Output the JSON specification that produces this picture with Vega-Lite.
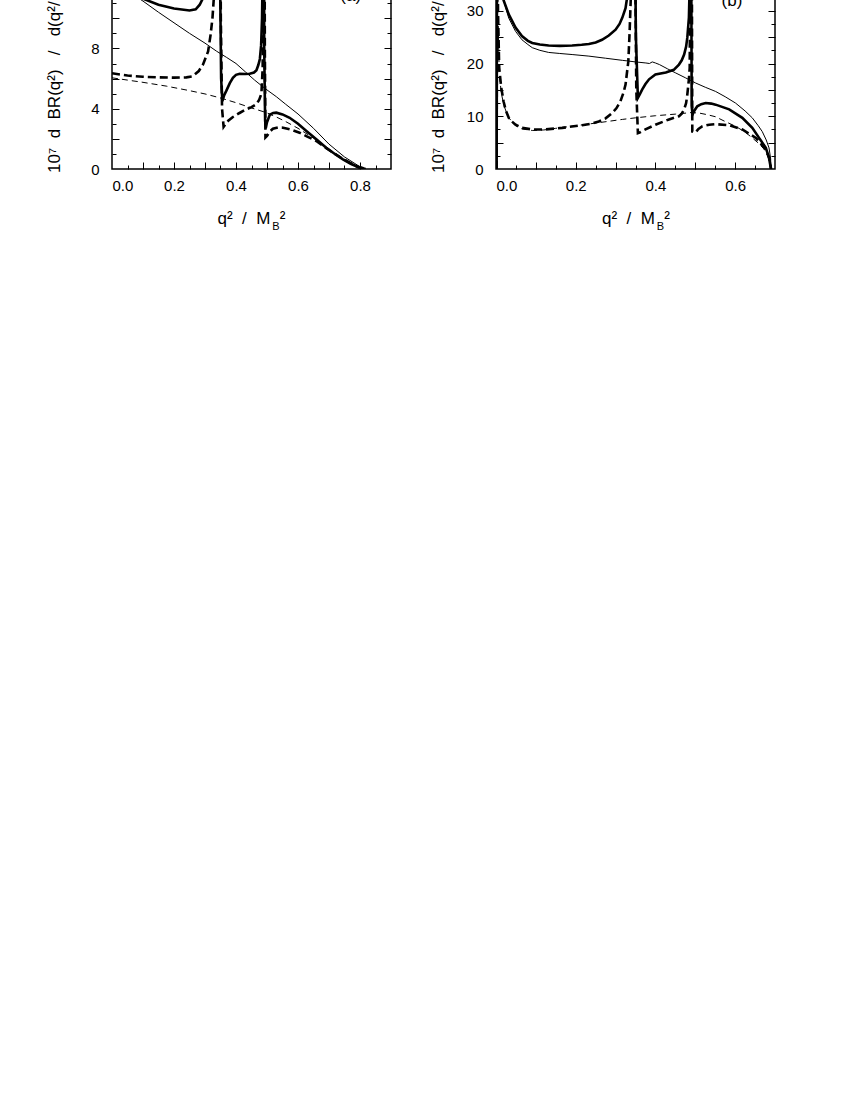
{
"$schema": "https://vega.github.io/schema/vega-lite/v6.json",
"background": "white",
"padding": {"left": 44, "top": -47, "right": 5, "bottom": 5},
"spacing": 35,
"config": {
  "view": {"stroke": "black", "strokeWidth": 1.5},
  "axis": {"labelFont": "Liberation Sans", "titleFont": "Liberation Sans", "labelFontSize": 15, "labelColor": "black", "titleColor": "black", "titleFontWeight": "normal", "tickColor": "black", "tickWidth": 1, "domain": false, "grid": false},
  "text": {"font": "Liberation Sans"}
},
"datasets": {
"a": [
{"c":"thick solid","x":0,"y":12.8},{"c":"thick solid","x":0.05,"y":11.9},{"c":"thick solid","x":0.1,"y":11.3},{"c":"thick solid","x":0.15,"y":10.9},{"c":"thick solid","x":0.2,"y":10.65},{"c":"thick solid","x":0.25,"y":10.52},{"c":"thick solid","x":0.27,"y":10.6},{"c":"thick solid","x":0.283,"y":10.9},{"c":"thick solid","x":0.295,"y":11.4},{"c":"thick solid","x":0.31,"y":12.5},{"c":"thick solid","x":0.325,"y":14.5},{"c":"thick solid","x":0.335,"y":18},{"c":"thick solid","x":0.342,"y":30},{"c":"thick solid","x":0.346,"y":30},{"c":"thick solid","x":0.349,"y":12},{"c":"thick solid","x":0.352,"y":6},{"c":"thick solid","x":0.356,"y":4.5},{"c":"thick solid","x":0.362,"y":4.9},{"c":"thick solid","x":0.369,"y":5.2},{"c":"thick solid","x":0.38,"y":5.7},{"c":"thick solid","x":0.39,"y":6.05},{"c":"thick solid","x":0.4,"y":6.25},{"c":"thick solid","x":0.412,"y":6.32},{"c":"thick solid","x":0.43,"y":6.3},{"c":"thick solid","x":0.444,"y":6.32},{"c":"thick solid","x":0.458,"y":6.4},{"c":"thick solid","x":0.466,"y":6.55},{"c":"thick solid","x":0.472,"y":6.9},{"c":"thick solid","x":0.477,"y":7.3},{"c":"thick solid","x":0.481,"y":8.2},{"c":"thick solid","x":0.484,"y":10},{"c":"thick solid","x":0.486,"y":13},{"c":"thick solid","x":0.4875,"y":30},{"c":"thick solid","x":0.489,"y":30},{"c":"thick solid","x":0.491,"y":8},{"c":"thick solid","x":0.494,"y":3.2},{"c":"thick solid","x":0.496,"y":2.7},{"c":"thick solid","x":0.5,"y":3.1},{"c":"thick solid","x":0.509,"y":3.6},{"c":"thick solid","x":0.52,"y":3.72},{"c":"thick solid","x":0.53,"y":3.74},{"c":"thick solid","x":0.55,"y":3.62},{"c":"thick solid","x":0.573,"y":3.4},{"c":"thick solid","x":0.6,"y":3.0},{"c":"thick solid","x":0.627,"y":2.52},{"c":"thick solid","x":0.66,"y":1.95},{"c":"thick solid","x":0.691,"y":1.41},{"c":"thick solid","x":0.72,"y":0.98},{"c":"thick solid","x":0.745,"y":0.64},{"c":"thick solid","x":0.77,"y":0.35},{"c":"thick solid","x":0.795,"y":0.12},{"c":"thick solid","x":0.818,"y":0},
{"c":"thick dashed","x":0,"y":6.35},{"c":"thick dashed","x":0.05,"y":6.2},{"c":"thick dashed","x":0.1,"y":6.12},{"c":"thick dashed","x":0.15,"y":6.08},{"c":"thick dashed","x":0.2,"y":6.06},{"c":"thick dashed","x":0.24,"y":6.08},{"c":"thick dashed","x":0.26,"y":6.15},{"c":"thick dashed","x":0.28,"y":6.5},{"c":"thick dashed","x":0.294,"y":6.95},{"c":"thick dashed","x":0.31,"y":7.8},{"c":"thick dashed","x":0.318,"y":8.9},{"c":"thick dashed","x":0.324,"y":10},{"c":"thick dashed","x":0.329,"y":11.5},{"c":"thick dashed","x":0.336,"y":15},{"c":"thick dashed","x":0.342,"y":30},{"c":"thick dashed","x":0.347,"y":30},{"c":"thick dashed","x":0.351,"y":10},{"c":"thick dashed","x":0.355,"y":4.0},{"c":"thick dashed","x":0.36,"y":2.8},{"c":"thick dashed","x":0.365,"y":2.95},{"c":"thick dashed","x":0.375,"y":3.2},{"c":"thick dashed","x":0.39,"y":3.45},{"c":"thick dashed","x":0.41,"y":3.7},{"c":"thick dashed","x":0.433,"y":3.96},{"c":"thick dashed","x":0.45,"y":4.1},{"c":"thick dashed","x":0.466,"y":4.3},{"c":"thick dashed","x":0.475,"y":4.6},{"c":"thick dashed","x":0.482,"y":5.0},{"c":"thick dashed","x":0.486,"y":6.7},{"c":"thick dashed","x":0.4875,"y":12},{"c":"thick dashed","x":0.4885,"y":30},{"c":"thick dashed","x":0.4905,"y":30},{"c":"thick dashed","x":0.493,"y":8},{"c":"thick dashed","x":0.495,"y":2.1},{"c":"thick dashed","x":0.5,"y":2.2},{"c":"thick dashed","x":0.51,"y":2.5},{"c":"thick dashed","x":0.519,"y":2.67},{"c":"thick dashed","x":0.535,"y":2.75},{"c":"thick dashed","x":0.552,"y":2.74},{"c":"thick dashed","x":0.58,"y":2.6},{"c":"thick dashed","x":0.605,"y":2.41},{"c":"thick dashed","x":0.63,"y":2.15},{"c":"thick dashed","x":0.659,"y":1.86},{"c":"thick dashed","x":0.69,"y":1.4},{"c":"thick dashed","x":0.713,"y":1.08},{"c":"thick dashed","x":0.74,"y":0.73},{"c":"thick dashed","x":0.767,"y":0.42},{"c":"thick dashed","x":0.79,"y":0.17},{"c":"thick dashed","x":0.818,"y":0},
{"c":"thin solid","x":0,"y":12.5},{"c":"thin solid","x":0.05,"y":11.8},{"c":"thin solid","x":0.1,"y":11.14},{"c":"thin solid","x":0.15,"y":10.4},{"c":"thin solid","x":0.2,"y":9.7},{"c":"thin solid","x":0.25,"y":9.0},{"c":"thin solid","x":0.3,"y":8.35},{"c":"thin solid","x":0.337,"y":7.82},{"c":"thin solid","x":0.37,"y":7.4},{"c":"thin solid","x":0.4,"y":7.0},{"c":"thin solid","x":0.43,"y":6.45},{"c":"thin solid","x":0.46,"y":5.9},{"c":"thin solid","x":0.493,"y":5.35},{"c":"thin solid","x":0.53,"y":4.8},{"c":"thin solid","x":0.56,"y":4.3},{"c":"thin solid","x":0.6,"y":3.65},{"c":"thin solid","x":0.65,"y":2.7},{"c":"thin solid","x":0.7,"y":1.65},{"c":"thin solid","x":0.75,"y":0.8},{"c":"thin solid","x":0.8,"y":0.15},{"c":"thin solid","x":0.818,"y":0},
{"c":"thin dashed","x":0,"y":6.05},{"c":"thin dashed","x":0.05,"y":5.9},{"c":"thin dashed","x":0.1,"y":5.75},{"c":"thin dashed","x":0.175,"y":5.5},{"c":"thin dashed","x":0.25,"y":5.2},{"c":"thin dashed","x":0.3,"y":4.98},{"c":"thin dashed","x":0.347,"y":4.73},{"c":"thin dashed","x":0.4,"y":4.4},{"c":"thin dashed","x":0.45,"y":4.05},{"c":"thin dashed","x":0.498,"y":3.74},{"c":"thin dashed","x":0.53,"y":3.45},{"c":"thin dashed","x":0.56,"y":3.15},{"c":"thin dashed","x":0.6,"y":2.7},{"c":"thin dashed","x":0.65,"y":2.05},{"c":"thin dashed","x":0.7,"y":1.3},{"c":"thin dashed","x":0.75,"y":0.65},{"c":"thin dashed","x":0.79,"y":0.2},{"c":"thin dashed","x":0.818,"y":0}
],
"b": [
{"c":"thick solid","x":0.0016,"y":0},{"c":"thick solid","x":0.003,"y":60},{"c":"thick solid","x":0.01,"y":45},{"c":"thick solid","x":0.019,"y":32},{"c":"thick solid","x":0.032,"y":29.3},{"c":"thick solid","x":0.049,"y":26.8},{"c":"thick solid","x":0.065,"y":25.2},{"c":"thick solid","x":0.08,"y":24.3},{"c":"thick solid","x":0.091,"y":23.9},{"c":"thick solid","x":0.11,"y":23.6},{"c":"thick solid","x":0.132,"y":23.4},{"c":"thick solid","x":0.16,"y":23.35},{"c":"thick solid","x":0.191,"y":23.4},{"c":"thick solid","x":0.215,"y":23.55},{"c":"thick solid","x":0.233,"y":23.7},{"c":"thick solid","x":0.25,"y":24.0},{"c":"thick solid","x":0.266,"y":24.5},{"c":"thick solid","x":0.283,"y":25.3},{"c":"thick solid","x":0.3,"y":26.4},{"c":"thick solid","x":0.31,"y":27.5},{"c":"thick solid","x":0.317,"y":28.7},{"c":"thick solid","x":0.325,"y":30.5},{"c":"thick solid","x":0.332,"y":34},{"c":"thick solid","x":0.338,"y":40},{"c":"thick solid","x":0.343,"y":60},{"c":"thick solid","x":0.347,"y":60},{"c":"thick solid","x":0.351,"y":25},{"c":"thick solid","x":0.356,"y":13.5},{"c":"thick solid","x":0.361,"y":14.2},{"c":"thick solid","x":0.367,"y":15.1},{"c":"thick solid","x":0.375,"y":16.1},{"c":"thick solid","x":0.384,"y":17.0},{"c":"thick solid","x":0.4,"y":17.9},{"c":"thick solid","x":0.426,"y":18.3},{"c":"thick solid","x":0.446,"y":18.8},{"c":"thick solid","x":0.459,"y":19.8},{"c":"thick solid","x":0.466,"y":20.6},{"c":"thick solid","x":0.472,"y":21.7},{"c":"thick solid","x":0.477,"y":23.2},{"c":"thick solid","x":0.48,"y":24.9},{"c":"thick solid","x":0.484,"y":28.7},{"c":"thick solid","x":0.486,"y":35},{"c":"thick solid","x":0.4875,"y":60},{"c":"thick solid","x":0.489,"y":60},{"c":"thick solid","x":0.491,"y":12},{"c":"thick solid","x":0.493,"y":10.3},{"c":"thick solid","x":0.498,"y":11.1},{"c":"thick solid","x":0.505,"y":11.9},{"c":"thick solid","x":0.515,"y":12.3},{"c":"thick solid","x":0.526,"y":12.5},{"c":"thick solid","x":0.54,"y":12.4},{"c":"thick solid","x":0.551,"y":12.2},{"c":"thick solid","x":0.585,"y":11.3},{"c":"thick solid","x":0.618,"y":9.7},{"c":"thick solid","x":0.643,"y":7.8},{"c":"thick solid","x":0.66,"y":5.9},{"c":"thick solid","x":0.677,"y":4.0},{"c":"thick solid","x":0.685,"y":2.1},{"c":"thick solid","x":0.69,"y":0},
{"c":"thick dashed","x":0.0016,"y":0},{"c":"thick dashed","x":0.003,"y":60},{"c":"thick dashed","x":0.005,"y":30},{"c":"thick dashed","x":0.008,"y":19.2},{"c":"thick dashed","x":0.013,"y":15.5},{"c":"thick dashed","x":0.019,"y":12.8},{"c":"thick dashed","x":0.025,"y":11.0},{"c":"thick dashed","x":0.032,"y":9.7},{"c":"thick dashed","x":0.04,"y":9.0},{"c":"thick dashed","x":0.049,"y":8.4},{"c":"thick dashed","x":0.065,"y":7.8},{"c":"thick dashed","x":0.091,"y":7.5},{"c":"thick dashed","x":0.124,"y":7.5},{"c":"thick dashed","x":0.166,"y":7.8},{"c":"thick dashed","x":0.216,"y":8.3},{"c":"thick dashed","x":0.24,"y":8.6},{"c":"thick dashed","x":0.258,"y":9.0},{"c":"thick dashed","x":0.275,"y":9.6},{"c":"thick dashed","x":0.291,"y":10.6},{"c":"thick dashed","x":0.302,"y":11.5},{"c":"thick dashed","x":0.312,"y":12.8},{"c":"thick dashed","x":0.32,"y":14.5},{"c":"thick dashed","x":0.325,"y":16.0},{"c":"thick dashed","x":0.332,"y":20.4},{"c":"thick dashed","x":0.335,"y":25.5},{"c":"thick dashed","x":0.338,"y":32},{"c":"thick dashed","x":0.341,"y":60},{"c":"thick dashed","x":0.347,"y":60},{"c":"thick dashed","x":0.352,"y":15},{"c":"thick dashed","x":0.356,"y":6.8},{"c":"thick dashed","x":0.36,"y":6.9},{"c":"thick dashed","x":0.367,"y":7.2},{"c":"thick dashed","x":0.375,"y":7.5},{"c":"thick dashed","x":0.4,"y":8.4},{"c":"thick dashed","x":0.434,"y":9.4},{"c":"thick dashed","x":0.459,"y":10.0},{"c":"thick dashed","x":0.466,"y":10.5},{"c":"thick dashed","x":0.472,"y":11.3},{"c":"thick dashed","x":0.477,"y":12.5},{"c":"thick dashed","x":0.48,"y":14.1},{"c":"thick dashed","x":0.484,"y":17},{"c":"thick dashed","x":0.486,"y":19.2},{"c":"thick dashed","x":0.4875,"y":40},{"c":"thick dashed","x":0.4885,"y":60},{"c":"thick dashed","x":0.4905,"y":60},{"c":"thick dashed","x":0.4925,"y":7.1},{"c":"thick dashed","x":0.5,"y":6.9},{"c":"thick dashed","x":0.508,"y":7.6},{"c":"thick dashed","x":0.518,"y":8.1},{"c":"thick dashed","x":0.535,"y":8.4},{"c":"thick dashed","x":0.551,"y":8.5},{"c":"thick dashed","x":0.585,"y":8.3},{"c":"thick dashed","x":0.618,"y":7.5},{"c":"thick dashed","x":0.652,"y":5.9},{"c":"thick dashed","x":0.677,"y":3.7},{"c":"thick dashed","x":0.686,"y":2.0},{"c":"thick dashed","x":0.69,"y":0},
{"c":"thin solid","x":0.0016,"y":0},{"c":"thin solid","x":0.003,"y":60},{"c":"thin solid","x":0.01,"y":42},{"c":"thin solid","x":0.019,"y":32},{"c":"thin solid","x":0.032,"y":28.6},{"c":"thin solid","x":0.049,"y":26.1},{"c":"thin solid","x":0.065,"y":24.5},{"c":"thin solid","x":0.08,"y":23.6},{"c":"thin solid","x":0.091,"y":23.0},{"c":"thin solid","x":0.11,"y":22.5},{"c":"thin solid","x":0.132,"y":22.1},{"c":"thin solid","x":0.16,"y":21.9},{"c":"thin solid","x":0.191,"y":21.7},{"c":"thin solid","x":0.233,"y":21.4},{"c":"thin solid","x":0.275,"y":21.0},{"c":"thin solid","x":0.317,"y":20.6},{"c":"thin solid","x":0.35,"y":20.3},{"c":"thin solid","x":0.376,"y":20.1},{"c":"thin solid","x":0.385,"y":20.0},{"c":"thin solid","x":0.392,"y":20.3},{"c":"thin solid","x":0.4,"y":20.1},{"c":"thin solid","x":0.41,"y":19.8},{"c":"thin solid","x":0.43,"y":19.0},{"c":"thin solid","x":0.451,"y":18.2},{"c":"thin solid","x":0.475,"y":17.3},{"c":"thin solid","x":0.501,"y":16.3},{"c":"thin solid","x":0.525,"y":15.5},{"c":"thin solid","x":0.551,"y":14.7},{"c":"thin solid","x":0.575,"y":13.7},{"c":"thin solid","x":0.601,"y":12.5},{"c":"thin solid","x":0.625,"y":11.0},{"c":"thin solid","x":0.643,"y":9.7},{"c":"thin solid","x":0.658,"y":8.2},{"c":"thin solid","x":0.668,"y":7.1},{"c":"thin solid","x":0.678,"y":5.5},{"c":"thin solid","x":0.685,"y":4.0},{"c":"thin solid","x":0.689,"y":2.0},{"c":"thin solid","x":0.69,"y":0},
{"c":"thin dashed","x":0.0016,"y":0},{"c":"thin dashed","x":0.003,"y":60},{"c":"thin dashed","x":0.005,"y":30},{"c":"thin dashed","x":0.008,"y":18.5},{"c":"thin dashed","x":0.013,"y":14.5},{"c":"thin dashed","x":0.02,"y":12},{"c":"thin dashed","x":0.03,"y":10},{"c":"thin dashed","x":0.04,"y":8.9},{"c":"thin dashed","x":0.049,"y":8.2},{"c":"thin dashed","x":0.065,"y":7.6},{"c":"thin dashed","x":0.091,"y":7.3},{"c":"thin dashed","x":0.12,"y":7.4},{"c":"thin dashed","x":0.149,"y":7.7},{"c":"thin dashed","x":0.2,"y":8.2},{"c":"thin dashed","x":0.25,"y":8.7},{"c":"thin dashed","x":0.317,"y":9.4},{"c":"thin dashed","x":0.35,"y":9.7},{"c":"thin dashed","x":0.4,"y":10.1},{"c":"thin dashed","x":0.45,"y":10.4},{"c":"thin dashed","x":0.49,"y":10.7},{"c":"thin dashed","x":0.51,"y":10.6},{"c":"thin dashed","x":0.53,"y":10.3},{"c":"thin dashed","x":0.551,"y":9.9},{"c":"thin dashed","x":0.575,"y":9.0},{"c":"thin dashed","x":0.601,"y":8.1},{"c":"thin dashed","x":0.625,"y":7.0},{"c":"thin dashed","x":0.643,"y":5.9},{"c":"thin dashed","x":0.66,"y":4.8},{"c":"thin dashed","x":0.672,"y":3.8},{"c":"thin dashed","x":0.682,"y":2.5},{"c":"thin dashed","x":0.688,"y":1.2},{"c":"thin dashed","x":0.69,"y":0}
]
},
"hconcat": [
{
  "width": 279, "height": 211,
  "data": {"name": "a"},
  "resolve": {"axis": {"x": "independent", "y": "independent"}},
  "layer": [
    {
      "transform": [{"filter": "datum.c == 'thin solid'"}],
      "mark": {"type": "line", "clip": true, "color": "black", "strokeWidth": 1},
      "encoding": {
        "x": {"field": "x", "type": "quantitative", "scale": {"domain": [0, 0.9], "nice": false, "zero": false},
              "axis": {"orient": "bottom", "values": [0, 0.2, 0.4, 0.6, 0.8], "format": ".1f", "ticks": false, "labelPadding": 9, "title": "q²\u00a0\u00a0/\u00a0\u00a0M\u00a0\u00a0²", "titleFontSize": 17, "titleX": 139, "titleY": 54, "titleBaseline": "alphabetic", "titleAlign": "center"}},
        "y": {"field": "y", "type": "quantitative", "scale": {"domain": [0, 14], "nice": false},
              "axis": {"orient": "left", "values": [0, 4, 8], "format": "d", "ticks": false, "labelPadding": 13, "title": "10⁷\u00a0\u00a0d\u00a0\u00a0BR(q²)\u00a0\u00a0\u00a0/\u00a0\u00a0\u00a0d(q²/M_B²)", "titleFontSize": 17, "titleX": -53, "titleY": 105.5, "titleAngle": 270, "titleAlign": "center", "titleBaseline": "alphabetic"}}
      }
    },
    {
      "transform": [{"filter": "datum.c == 'thin dashed'"}],
      "mark": {"type": "line", "clip": true, "color": "black", "strokeWidth": 1, "strokeDash": [6, 4]},
      "encoding": {
        "x": {"field": "x", "type": "quantitative", "scale": {"domain": [0, 0.9], "nice": false, "zero": false},
              "axis": {"orient": "bottom", "values": [0.1, 0.2, 0.3, 0.4, 0.5, 0.6, 0.7, 0.8], "labels": false, "tickSize": -7, "title": null}},
        "y": {"field": "y", "type": "quantitative", "scale": {"domain": [0, 14], "nice": false},
              "axis": {"orient": "left", "values": [2, 4, 6, 8, 10, 12], "labels": false, "tickSize": -7, "title": null}}
      }
    },
    {
      "transform": [{"filter": "datum.c == 'thick dashed'"}],
      "mark": {"type": "line", "clip": true, "color": "black", "strokeWidth": 2.6, "strokeDash": [8, 4]},
      "encoding": {
        "x": {"field": "x", "type": "quantitative", "scale": {"domain": [0, 0.9], "nice": false, "zero": false},
              "axis": {"orient": "bottom", "values": [0.05, 0.15, 0.25, 0.35, 0.45, 0.55, 0.65, 0.75, 0.85], "labels": false, "tickSize": -4, "title": "B", "titleFontSize": 11, "titleX": 163.5, "titleY": 60, "titleBaseline": "alphabetic", "titleAlign": "center"}},
        "y": {"field": "y", "type": "quantitative", "scale": {"domain": [0, 14], "nice": false},
              "axis": {"orient": "left", "values": [1, 3, 5, 7, 9, 11, 13], "labels": false, "tickSize": -4, "title": null}}
      }
    },
    {
      "transform": [{"filter": "datum.c == 'thick solid'"}],
      "mark": {"type": "line", "clip": true, "color": "black", "strokeWidth": 2.6},
      "encoding": {
        "x": {"field": "x", "type": "quantitative", "scale": {"domain": [0, 0.9], "nice": false, "zero": false},
              "axis": {"orient": "top", "values": [0.1, 0.2, 0.3, 0.4, 0.5, 0.6, 0.7, 0.8], "labels": false, "tickSize": -7, "title": null}},
        "y": {"field": "y", "type": "quantitative", "scale": {"domain": [0, 14], "nice": false},
              "axis": {"orient": "right", "values": [2, 4, 6, 8, 10, 12], "labels": false, "tickSize": -7, "title": null}}
      }
    },
    {
      "mark": {"type": "point", "opacity": 0, "clip": true},
      "encoding": {
        "x": {"field": "x", "type": "quantitative", "scale": {"domain": [0, 0.9], "nice": false, "zero": false},
              "axis": {"orient": "top", "values": [0.05, 0.15, 0.25, 0.35, 0.45, 0.55, 0.65, 0.75, 0.85], "labels": false, "tickSize": -4, "title": null}},
        "y": {"field": "y", "type": "quantitative", "scale": {"domain": [0, 14], "nice": false},
              "axis": {"orient": "right", "values": [1, 3, 5, 7, 9, 11, 13], "labels": false, "tickSize": -4, "title": null}}
      }
    },
    {
      "data": {"values": [{"label": "(a)", "x": 0.77, "y": 10.88}]},
      "mark": {"type": "text", "fontSize": 17, "baseline": "bottom", "align": "center", "color": "black"},
      "encoding": {
        "x": {"field": "x", "type": "quantitative", "scale": {"domain": [0, 0.9], "nice": false, "zero": false}, "axis": null},
        "y": {"field": "y", "type": "quantitative", "scale": {"domain": [0, 14], "nice": false}, "axis": null},
        "text": {"field": "label"}
      }
    }
  ]
},
{
  "width": 279, "height": 211,
  "data": {"name": "b"},
  "resolve": {"axis": {"x": "independent", "y": "independent"}},
  "layer": [
    {
      "transform": [{"filter": "datum.c == 'thin solid'"}],
      "mark": {"type": "line", "clip": true, "color": "black", "strokeWidth": 1},
      "encoding": {
        "x": {"field": "x", "type": "quantitative", "scale": {"domain": [0, 0.7], "nice": false, "zero": false},
              "axis": {"orient": "bottom", "values": [0, 0.2, 0.4, 0.6], "format": ".1f", "ticks": false, "labelPadding": 9, "title": "q²\u00a0\u00a0/\u00a0\u00a0M\u00a0\u00a0²", "titleFontSize": 17, "titleX": 139.5, "titleY": 54, "titleBaseline": "alphabetic", "titleAlign": "center"}},
        "y": {"field": "y", "type": "quantitative", "scale": {"domain": [0, 40], "nice": false},
              "axis": {"orient": "left", "values": [0, 10, 20, 30], "format": "d", "ticks": false, "labelPadding": 13, "title": "10⁷\u00a0\u00a0d\u00a0\u00a0BR(q²)\u00a0\u00a0\u00a0/\u00a0\u00a0\u00a0d(q²/M_B²)", "titleFontSize": 17, "titleX": -53, "titleY": 105.5, "titleAngle": 270, "titleAlign": "center", "titleBaseline": "alphabetic"}}
      }
    },
    {
      "transform": [{"filter": "datum.c == 'thin dashed'"}],
      "mark": {"type": "line", "clip": true, "color": "black", "strokeWidth": 1, "strokeDash": [6, 4]},
      "encoding": {
        "x": {"field": "x", "type": "quantitative", "scale": {"domain": [0, 0.7], "nice": false, "zero": false},
              "axis": {"orient": "bottom", "values": [0.1, 0.2, 0.3, 0.4, 0.5, 0.6], "labels": false, "tickSize": -7, "title": null}},
        "y": {"field": "y", "type": "quantitative", "scale": {"domain": [0, 40], "nice": false},
              "axis": {"orient": "left", "values": [5, 10, 15, 20, 25, 30, 35], "labels": false, "tickSize": -7, "title": null}}
      }
    },
    {
      "transform": [{"filter": "datum.c == 'thick dashed'"}],
      "mark": {"type": "line", "clip": true, "color": "black", "strokeWidth": 2.6, "strokeDash": [8, 4]},
      "encoding": {
        "x": {"field": "x", "type": "quantitative", "scale": {"domain": [0, 0.7], "nice": false, "zero": false},
              "axis": {"orient": "bottom", "values": [0.05, 0.15, 0.25, 0.35, 0.45, 0.55, 0.65], "labels": false, "tickSize": -4, "title": "B", "titleFontSize": 11, "titleX": 164, "titleY": 60, "titleBaseline": "alphabetic", "titleAlign": "center"}},
        "y": {"field": "y", "type": "quantitative", "scale": {"domain": [0, 40], "nice": false},
              "axis": {"orient": "left", "values": [2.5, 7.5, 12.5, 17.5, 22.5, 27.5, 32.5, 37.5], "labels": false, "tickSize": -4, "title": null}}
      }
    },
    {
      "transform": [{"filter": "datum.c == 'thick solid'"}],
      "mark": {"type": "line", "clip": true, "color": "black", "strokeWidth": 2.6},
      "encoding": {
        "x": {"field": "x", "type": "quantitative", "scale": {"domain": [0, 0.7], "nice": false, "zero": false},
              "axis": {"orient": "top", "values": [0.1, 0.2, 0.3, 0.4, 0.5, 0.6], "labels": false, "tickSize": -7, "title": null}},
        "y": {"field": "y", "type": "quantitative", "scale": {"domain": [0, 40], "nice": false},
              "axis": {"orient": "right", "values": [5, 10, 15, 20, 25, 30, 35], "labels": false, "tickSize": -7, "title": null}}
      }
    },
    {
      "mark": {"type": "point", "opacity": 0, "clip": true},
      "encoding": {
        "x": {"field": "x", "type": "quantitative", "scale": {"domain": [0, 0.7], "nice": false, "zero": false},
              "axis": {"orient": "top", "values": [0.05, 0.15, 0.25, 0.35, 0.45, 0.55, 0.65], "labels": false, "tickSize": -4, "title": null}},
        "y": {"field": "y", "type": "quantitative", "scale": {"domain": [0, 40], "nice": false},
              "axis": {"orient": "right", "values": [2.5, 7.5, 12.5, 17.5, 22.5, 27.5, 32.5, 37.5], "labels": false, "tickSize": -4, "title": null}}
      }
    },
    {
      "data": {"values": [{"label": "(b)", "x": 0.592, "y": 30.06}]},
      "mark": {"type": "text", "fontSize": 17, "baseline": "bottom", "align": "center", "color": "black"},
      "encoding": {
        "x": {"field": "x", "type": "quantitative", "scale": {"domain": [0, 0.7], "nice": false, "zero": false}, "axis": null},
        "y": {"field": "y", "type": "quantitative", "scale": {"domain": [0, 40], "nice": false}, "axis": null},
        "text": {"field": "label"}
      }
    }
  ]
}
]
}
